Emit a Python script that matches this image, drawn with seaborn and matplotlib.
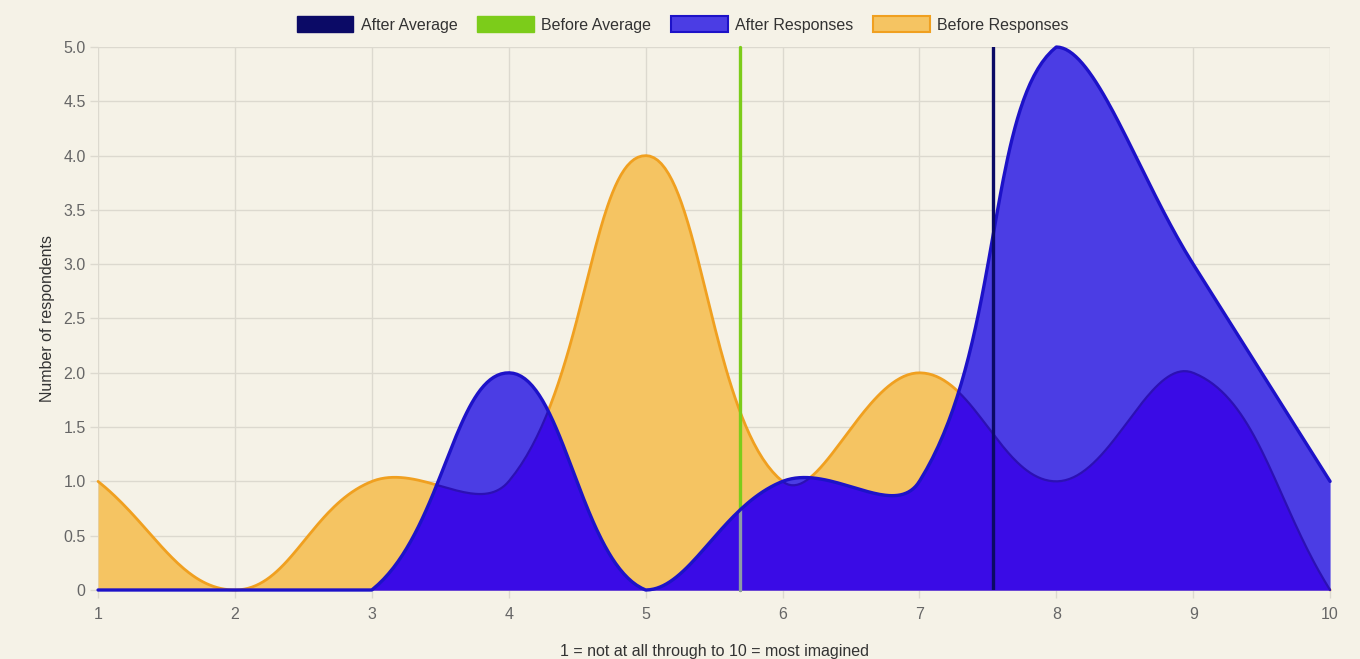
import numpy as np
import matplotlib
matplotlib.use("Agg")
import matplotlib.pyplot as plt
from matplotlib.patches import Patch
import seaborn as sns

# survey scores on the x axis, respondent counts per score
scores = [1, 2, 3, 4, 5, 6, 7, 8, 9, 10]
before_counts = [1, 0, 1, 1, 4, 1, 2, 1, 2, 0]
after_counts = [0, 0, 0, 2, 0, 1, 1, 5, 3, 1]
y_ticks = [0, 0.5, 1.0, 1.5, 2.0, 2.5, 3.0, 3.5, 4.0, 4.5, 5.0]
legend_labels = ["After Average", "Before Average", "After Responses", "Before Responses"]

BG = "#f5f2e7"
GRID = "#dcd9cf"
ORANGE_FILL = "#f5c462"
ORANGE_LINE = "#f0a020"
LIGHT_BLUE = "#4b3de4"
DARK_BLUE = "#3a0be6"
BLUE_LINE = "#1d12c8"
UNDER_LINE = "#2c10b4"
GREEN = "#7ccc1a"
NAVY = "#0b0a66"

FS = 11.5


def spline(ax, xs, ys, tension=0.4, steps=40):
    """Chart.js style bezier through the points, computed in pixel space."""
    pts = ax.transData.transform(np.column_stack([xs, ys]).astype(float))
    bb = ax.bbox
    n = len(pts)
    cp_prev, cp_next = [], []
    for i in range(n):
        prev = pts[max(i - 1, 0)]
        cur = pts[i]
        nxt = pts[min(i + 1, n - 1)]
        d01 = np.hypot(*(cur - prev))
        d12 = np.hypot(*(nxt - cur))
        tot = d01 + d12
        s01 = d01 / tot if tot else 0
        s12 = d12 / tot if tot else 0
        a = cur - tension * s01 * (nxt - prev)
        b = cur + tension * s12 * (nxt - prev)
        for c in (a, b):
            c[0] = np.clip(c[0], bb.x0, bb.x1)
            c[1] = np.clip(c[1], bb.y0, bb.y1)
        cp_prev.append(a)
        cp_next.append(b)
    out = []
    t = np.linspace(0, 1, steps)[:, None]
    for i in range(n - 1):
        p0, p1, p2, p3 = pts[i], cp_next[i], cp_prev[i + 1], pts[i + 1]
        seg = (1 - t) ** 3 * p0 + 3 * (1 - t) ** 2 * t * p1 + 3 * (1 - t) * t ** 2 * p2 + t ** 3 * p3
        out.append(seg if i == 0 else seg[1:])
    data = ax.transData.inverted().transform(np.vstack(out))
    order = np.argsort(data[:, 0], kind="stable")
    return data[order, 0], data[order, 1]


def main():
    sns.set_theme(style="whitegrid")
    plt.rcParams["font.family"] = ["Liberation Sans", "DejaVu Sans"]

    fig, ax = plt.subplots(figsize=(13.6, 6.59), dpi=100)
    fig.patch.set_facecolor(BG)
    ax.set_facecolor(BG)
    fig.subplots_adjust(left=0.0721, right=0.978, bottom=0.1047, top=0.9287)
    ax.set_xlim(1, 10)
    ax.set_ylim(0, 5)

    bx, by = spline(ax, scores, before_counts)
    axx, ay = spline(ax, scores, after_counts)
    grid = np.linspace(1, 10, 3000)
    before_c = np.interp(grid, bx, by)
    after_c = np.interp(grid, axx, ay)

    before_avg = np.average(scores, weights=before_counts)
    after_avg = np.average(scores, weights=after_counts)

    # before series (bottom layer)
    ax.fill_between(grid, 0, before_c, color=ORANGE_FILL, lw=0, zorder=1)
    sns.lineplot(x=grid, y=before_c, ax=ax, color=ORANGE_LINE, linewidth=2.0, zorder=2)
    ax.axvline(before_avg, color=GREEN, linewidth=2.4, zorder=2.5)

    # after series, drawn over it
    ax.fill_between(grid, 0, after_c, color=LIGHT_BLUE, lw=0, zorder=3)
    ax.fill_between(grid, 0, np.minimum(before_c, after_c), color=DARK_BLUE, lw=0, zorder=3.1)
    hidden = np.where(before_c < after_c, before_c, np.nan)
    ax.plot(grid, hidden, color=UNDER_LINE, linewidth=1.6, zorder=3.2)
    ax.plot([before_avg, before_avg], [0, np.interp(before_avg, grid, after_c)],
            color="#8d9aa6", linewidth=2.4, zorder=3.3)
    line = sns.lineplot(x=grid, y=after_c, ax=ax, color=BLUE_LINE, linewidth=2.4, zorder=4)
    for ln in line.lines:
        ln.set_clip_on(False)
    ax.axvline(after_avg, color=NAVY, linewidth=2.4, zorder=5)

    ax.set_xticks(scores)
    ax.set_xticklabels([str(s) for s in scores])
    ax.set_yticks(y_ticks)
    ax.set_yticklabels(["0" if v == 0 else f"{v:.1f}" for v in y_ticks])
    ax.grid(True, color=GRID, linewidth=1.0)
    ax.set_axisbelow(True)
    for sp in ax.spines.values():
        sp.set_visible(False)
    ax.tick_params(axis="both", length=6, width=1, color=GRID, labelcolor="#666666",
                   labelsize=FS, pad=3, left=True, bottom=True)
    ax.tick_params(axis="x", pad=6)

    ax.set_xlabel("1 = not at all through to 10 = most imagined", fontsize=FS,
                  color="#333333", labelpad=16)
    ax.set_ylabel("Number of respondents", fontsize=FS, color="#333333", labelpad=6)

    handles = [
        Patch(facecolor=NAVY, edgecolor=NAVY),
        Patch(facecolor=GREEN, edgecolor=GREEN),
        Patch(facecolor=LIGHT_BLUE, edgecolor=BLUE_LINE, linewidth=1.5),
        Patch(facecolor=ORANGE_FILL, edgecolor=ORANGE_LINE, linewidth=1.5),
    ]
    fig.legend(handles, legend_labels, loc="upper center", bbox_to_anchor=(0.502, 0.997),
               ncol=4, frameon=False, fontsize=FS, handlelength=3.55, handleheight=1.15,
               handletextpad=0.45, columnspacing=1.25, labelcolor="#333333")

    fig.savefig("out.png", dpi=100, facecolor=BG)


if __name__ == "__main__":
    main()
